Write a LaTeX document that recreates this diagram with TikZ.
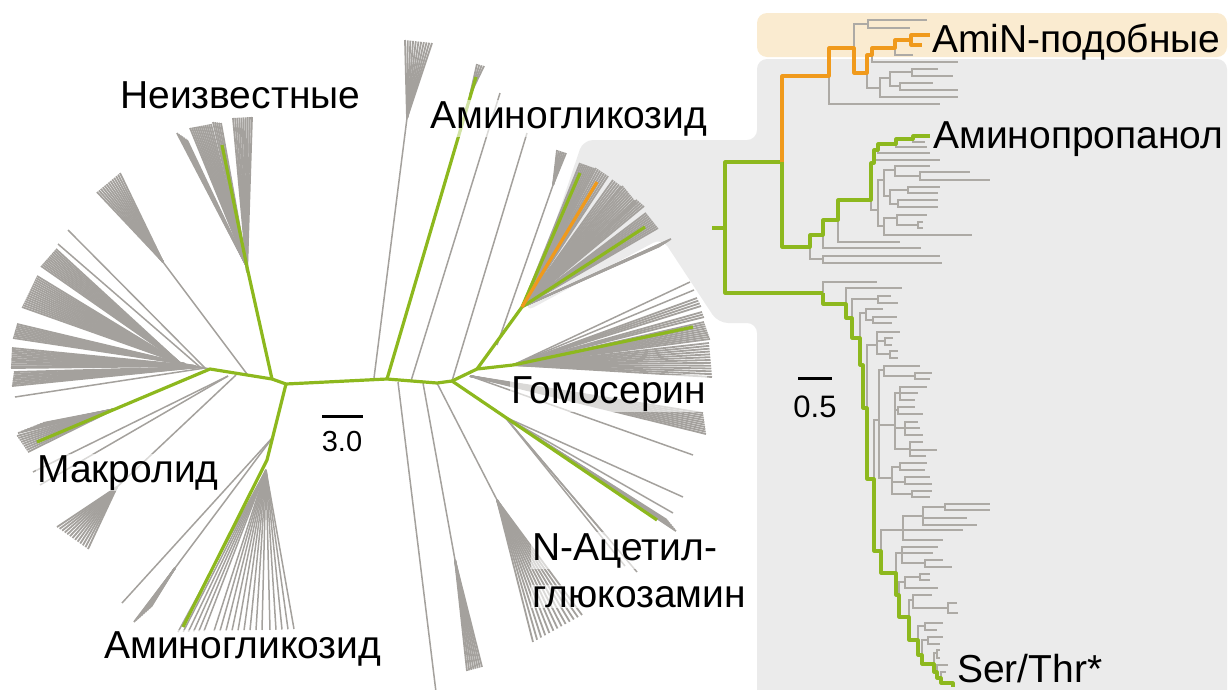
\documentclass[tikz,border=0pt]{standalone}
\usepackage{fontspec}
\setmainfont{Liberation Sans}
\usetikzlibrary{calc}

\definecolor{treegray}{HTML}{A4A19D}
\definecolor{rtgray}{HTML}{ADAAA5}
\definecolor{leafgreen}{HTML}{8DB81E}
\definecolor{amber}{HTML}{F09A1C}
\definecolor{panelgray}{HTML}{EBEBEB}
\definecolor{beigebox}{HTML}{FAEBD0}

\tikzset{
  gl/.style={draw=treegray, line width=1.5pt},
  gf/.style={draw=treegray, line width=1.8pt},
  gn/.style={draw=leafgreen, line width=3.2pt, line join=round},
  on/.style={draw=amber, line width=3.2pt, line join=round},
  rt/.style={draw=rtgray, line width=1.1pt},
  rg/.style={draw=leafgreen, line width=3.2pt, line join=round},
  ro/.style={draw=amber, line width=3.2pt, line join=round},
  lbl/.style={font=\fontsize{39}{46}\selectfont, inner sep=1pt, text=black},
  halo/.style={fill=white, fill opacity=0.6, text opacity=1},
  num/.style={font=\fontsize{29}{34}\selectfont, inner sep=0pt},
  bar/.style={draw=black, line width=3pt}
}

% a fan of #4+1 gray lines from base #1 to tips spread between #2 and #3
\newcommand\fan[4]{\foreach \kk in {0,...,#4}{\draw[gf] (#1) -- ($(#2)!\kk/#4!(#3)$);}}
% the same with thin, well separated lines
\newcommand\thinfan[4]{\foreach \kk in {0,...,#4}{\draw[gl] (#1) -- ($(#2)!\kk/#4!(#3)$);}}

\begin{document}
\begin{tikzpicture}[x=1pt,y=-1pt]
\useasboundingbox (0,0) rectangle (1229,689);
\clip (0,0) rectangle (1229,689);

% ---------- background panels ----------
\fill[panelgray, rounded corners=10pt] (757,59) -- (1227,59) -- (1227,705) -- (757,705)
  -- (757,323) -- (718,323) -- (662,238) -- (525,312) -- (583,140) -- (757,140) -- cycle;
\fill[beigebox, rounded corners=10pt] (757,13) rectangle (1227,57);

% ---------- unrooted tree: backbone points ----------
\coordinate (mac) at (210,369);
\coordinate (n1) at (272,379);
\coordinate (hl) at (286,384);
\coordinate (hm) at (387,379);
\coordinate (hm2) at (437,383);
\coordinate (rh) at (452,381);
\coordinate (q) at (477,369);
\coordinate (r2) at (513,365);
\coordinate (p) at (522,307);
\coordinate (u) at (247,267);
\coordinate (agb) at (267,460);

% ---------- unrooted tree: gray branches ----------
% top middle
\draw[gl] (374,378) -- (407,118);
\fan{407,118}{405,40}{432,43}{10}
\draw[gl] (411,381) -- (500,93);
\draw[gl] (rh) -- (527,133);
\draw[gl] (497,345) -- (553,185);
\fan{553,185}{557,150}{566,153}{5}
\fan{470,95}{477,64}{484,66}{3}

% upper fan (highlighted clade)
\fan{522,307}{580,163}{594,168}{8}
\fan{522,307}{596,168}{608,176}{6}
\fan{522,307}{613,180}{621,186}{4}
\fan{522,307}{623,186}{636,202}{9}
\fan{522,307}{637,200}{644,206}{4}
\fan{522,307}{646,213}{658,228}{9}
\fan{522,307}{660,246}{671,239}{6}

% homoserine fan
\draw[gl] (r2) -- (690,282);
\draw[gl] (r2) -- (694,290);
\fan{513,365}{697,298}{701,306}{3}
\fan{513,365}{702,312}{704,317}{2}
\fan{513,365}{704,322}{710,339}{8}
\fan{513,365}{709,343}{712,377}{12}
\fan{470,376}{703,413}{706,434}{9}
\draw[gl] (470,376) -- (693,455);

% N-acetylglucosamine fan
\coordinate (s) at (505,417);
\draw[gl] (s) -- (683,497);
\draw[gl] (s) -- (673,513);
\fan{505,417}{667,520}{676,531}{6}
\draw[gl] (s) -- (637,572);
\draw[gl] (s) -- (625,566);
\draw[gl] (s) -- (605,535);

% downward fans
\draw[gl] (hm2) -- (497,500);
\fan{497,500}{533,642}{582,615}{12}
\draw[gl] (423,383) -- (455,560);
\fan{455,560}{467,671}{482,667}{7}
\draw[gl] (398,382) -- (436,692);

% unknown clade
\fan{247,267}{177,133}{187,140}{6}
\fan{247,267}{190,128}{211,124}{11}
\fan{247,267}{213,122}{221,123}{4}
\fan{247,272}{233,118}{252,117}{9}

% left fans
\draw[gl] (247,374) -- (163,262);
\fan{163,262}{97,192}{120,173}{12}
\draw[gl] (205,368) -- (68,230);
\draw[gl] (200,367) -- (58,244);
\draw[gl] (mac) -- (180,363);
\fan{180,363}{41,266}{56,249}{11}
\fan{180,363}{22,307}{37,276}{16}
\fan{185,364}{13,338}{17,324}{8}
\fan{195,366}{11,368}{12,348}{11}
\fan{200,367}{12,386}{14,372}{8}
\draw[gl] (205,368) -- (15,397);

% macrolide fan
\fan{115,409}{43,423}{18,433}{8}
\fan{115,409}{17,436}{28,452}{8}
\draw[gl] (228,376) -- (33,472);
\draw[gl] (228,376) -- (40,485);
\draw[gl] (236,375) -- (117,487);
\fan{117,487}{57,527}{88,549}{12}

% lower left fans
\draw[gl] (273,437) -- (122,603);
\draw[gl] (273,437) -- (175,568);
\fan{175,568}{134,622}{151,607}{9}
\thinfan{266,470}{178,632}{204,631}{5}
\thinfan{266,470}{214,631}{262,630}{8}
\thinfan{266,470}{270,630}{294,629}{4}

% ---------- unrooted tree: coloured lineages ----------
\draw[gn] (37,442) -- (mac) -- (n1) -- (hl) -- (hm) -- (hm2) -- (rh) -- (q) -- (r2) -- (693,327);
\draw[gn] (n1) -- (u) -- (222,145);
\draw[gn] (hl) -- (agb) -- (183,627);
\draw[gn] (hm) -- (476,77);
\draw[gn] (rh) -- (657,520);
\draw[gn] (q) -- (p) -- (580,173);
\draw[gn] (p) -- (645,227);
\draw[on] (p) -- (597,182);

% ---------- rooted tree: gray branches ----------
% AmiN-like clade
\draw[rt] (829,76) |- (940,104);
\draw[rt] (854,48) |- (868,24);
\draw[rt] (868,24) |- (927,20);
\draw[rt] (868,24) |- (910,28);
\draw[rt] (867,73) |- (880,88);
\draw[rt] (872,55) |- (958,62);
\draw[rt] (895,48) |- (913,55);
\draw[rt] (880,88) |- (890,78);
\draw[rt] (880,88) |- (958,97);
\draw[rt] (890,78) |- (912,72);
\draw[rt] (890,78) |- (900,86);
\draw[rt] (912,72) |- (938,69);
\draw[rt] (912,72) |- (953,76);
\draw[rt] (900,86) |- (933,83);
\draw[rt] (900,86) |- (958,90);

% aminopropanol clade
\draw[rt] (810,247) |- (823,259);
\draw[rt] (823,259) |- (940,256);
\draw[rt] (823,259) |- (942,263);
\draw[rt] (823,235) |- (921,248);
\draw[rt] (838,220) |- (900,242);
\draw[rt] (871,200) |- (878,210);
\draw[rt] (874,163) |- (940,160);
\draw[rt] (878,150) |- (930,153);
\draw[rt] (896,144) |- (927,147);
\draw[rt] (913,139) |- (925,142);
\draw[rt] (878,210) |- (884,180);
\draw[rt] (878,210) |- (884,226);
\draw[rt] (884,180) |- (895,170);
\draw[rt] (884,180) |- (890,196);
\draw[rt] (895,170) |- (930,166);
\draw[rt] (895,170) |- (920,176);
\draw[rt] (920,176) |- (970,172);
\draw[rt] (920,176) |- (990,180);
\draw[rt] (890,196) |- (908,190);
\draw[rt] (890,196) |- (898,204);
\draw[rt] (908,190) |- (940,187);
\draw[rt] (908,190) |- (938,193);
\draw[rt] (898,204) |- (938,200);
\draw[rt] (898,204) |- (938,207);
\draw[rt] (884,226) |- (897,218);
\draw[rt] (884,226) |- (972,235);
\draw[rt] (897,218) |- (927,215);
\draw[rt] (897,218) |- (918,225);
\draw[rt] (918,225) |- (923,222);
\draw[rt] (918,225) |- (923,228);

% Ser/Thr clade
\draw[rt] (823,293) |- (877,282);
\draw[rt] (846,304) |- (902,288);
\draw[rt] (852,318) |- (878,299);
\draw[rt] (878,299) |- (891,296);
\draw[rt] (878,299) |- (898,303);
\draw[rt] (860,338) |- (866,313);
\draw[rt] (866,313) |- (883,309);
\draw[rt] (866,313) |- (873,320);
\draw[rt] (873,320) |- (897,317);
\draw[rt] (873,320) |- (892,323);
\draw[rt] (867,408) |- (877,345);
\draw[rt] (877,345) |- (900,332);
\draw[rt] (877,345) |- (885,341);
\draw[rt] (877,345) |- (890,354);
\draw[rt] (885,341) |- (893,338);
\draw[rt] (885,341) |- (892,345);
\draw[rt] (890,354) |- (898,351);
\draw[rt] (890,354) |- (898,358);
\draw[rt] (874,479) |- (879,420);
\draw[rt] (879,420) |- (884,370);
\draw[rt] (884,370) |- (920,366);
\draw[rt] (884,370) |- (915,376);
\draw[rt] (915,376) |- (932,373);
\draw[rt] (915,376) |- (930,379);
\draw[rt] (879,420) |- (895,425);
\draw[rt] (895,425) |- (900,393);
\draw[rt] (895,425) |- (898,410);
\draw[rt] (895,425) |- (905,428);
\draw[rt] (895,425) |- (910,449);
\draw[rt] (900,393) |- (927,387);
\draw[rt] (900,393) |- (918,393);
\draw[rt] (900,393) |- (915,400);
\draw[rt] (898,410) |- (915,407);
\draw[rt] (898,410) |- (923,414);
\draw[rt] (905,428) |- (918,422);
\draw[rt] (905,428) |- (920,428);
\draw[rt] (905,428) |- (923,435);
\draw[rt] (910,449) |- (923,442);
\draw[rt] (910,449) |- (937,450);
\draw[rt] (910,449) |- (926,456);
\draw[rt] (879,420) |- (892,478);
\draw[rt] (892,478) |- (900,467);
\draw[rt] (892,478) |- (905,482);
\draw[rt] (892,478) |- (912,494);
\draw[rt] (900,467) |- (927,463);
\draw[rt] (900,467) |- (925,470);
\draw[rt] (905,482) |- (930,477);
\draw[rt] (905,482) |- (932,484);
\draw[rt] (912,494) |- (932,491);
\draw[rt] (912,494) |- (930,497);
\draw[rt] (881,551) |- (903,530);
\draw[rt] (903,530) |- (923,516);
\draw[rt] (903,530) |- (963,530);
\draw[rt] (903,530) |- (943,540);
\draw[rt] (923,516) |- (945,507);
\draw[rt] (923,516) |- (967,518);
\draw[rt] (923,516) |- (977,525);
\draw[rt] (945,507) |- (990,504);
\draw[rt] (945,507) |- (990,510);
\draw[rt] (896,573) |- (902,553);
\draw[rt] (902,553) |- (938,547);
\draw[rt] (902,553) |- (933,553);
\draw[rt] (902,553) |- (925,563);
\draw[rt] (925,563) |- (943,560);
\draw[rt] (925,563) |- (952,567);
\draw[rt] (899,595) |- (905,582);
\draw[rt] (905,582) |- (920,577);
\draw[rt] (905,582) |- (938,588);
\draw[rt] (920,577) |- (930,574);
\draw[rt] (920,577) |- (930,580);
\draw[rt] (909,617) |- (913,600);
\draw[rt] (913,600) |- (932,595);
\draw[rt] (913,600) |- (948,608);
\draw[rt] (948,608) |- (957,603);
\draw[rt] (948,608) |- (958,613);
\draw[rt] (918,640) |- (925,626);
\draw[rt] (925,626) |- (943,623);
\draw[rt] (925,626) |- (937,630);
\draw[rt] (922,655) |- (928,640);
\draw[rt] (928,640) |- (943,637);
\draw[rt] (928,640) |- (940,644);
\draw[rt] (934,664) |- (937,653);
\draw[rt] (937,653) |- (940,650);
\draw[rt] (937,653) |- (940,658);
\draw[rt] (937,672) |- (948,665);
\draw[rt] (941,678) |- (946,672);

% ---------- rooted tree: coloured lineages ----------
\coordinate (root) at (725,228);
\draw[rg] (712,228) -- (root);
\draw[rg] (root) |- (782,162);
\draw[rg] (root) |- (823,293);
\draw[ro] (782,162) |- (829,76) |- (854,48) |- (867,73) |- (872,55) |- (895,48) |- (911,40) |- (930,35);
\draw[ro] (911,40) |- (922,45);
\draw[rg] (782,162) |- (810,247) |- (823,235) |- (838,220) |- (871,200) |- (874,163) |- (878,150) |- (896,144) |- (913,139) |- (930,136);
\draw[rg] (823,293) |- (846,304) |- (852,318) |- (860,338) |- (863,365) |- (867,408) |- (874,479)
  |- (881,551) |- (896,573) |- (899,595) |- (909,617) |- (918,640) |- (922,655) |- (934,664)
  |- (937,672) |- (941,678) |- (953,683) -- (953,687);

% ---------- scale bars ----------
\coordinate (sbLa) at (322,416);
\coordinate (sbLb) at (363,416);
\draw[bar] (sbLa) -- (sbLb);
\node[num, anchor=base] (sbLt) at (342,451) {3.0};
\coordinate (sbRa) at (798,378);
\coordinate (sbRb) at (832,378);
\draw[bar] (sbRa) -- (sbRb);
\node[num, anchor=base, font=\fontsize{31}{36}\selectfont] (sbRt) at (815,417) {0.5};

% ---------- labels ----------
\node[lbl, anchor=base west] (lblUnk) at (119,108) {Неизвестные};
\node[lbl, halo, anchor=base west] (lblAmgTop) at (429,128) {Аминогликозид};
\node[lbl, halo, anchor=base west] (lblHse) at (510,403) {Гомосерин};
\node[lbl, halo, anchor=base west] (lblNacA) at (531,560) {N-Ацетил-};
\node[lbl, halo, anchor=base west] (lblNacB) at (531,607) {глюкозамин};
\node[lbl, halo, anchor=base west] (lblMac) at (36,482) {Макролид};
\node[lbl, halo, anchor=base west] (lblAmgBot) at (103,658) {Аминогликозид};
\node[lbl, anchor=base west] (lblAmiN) at (931,52) {AmiN-подобные};
\node[lbl, anchor=base west] (lblApr) at (932,148) {Аминопропанол};
\node[lbl, anchor=base west] (lblSer) at (956,682) {Ser/Thr*};
\end{tikzpicture}
\end{document}
